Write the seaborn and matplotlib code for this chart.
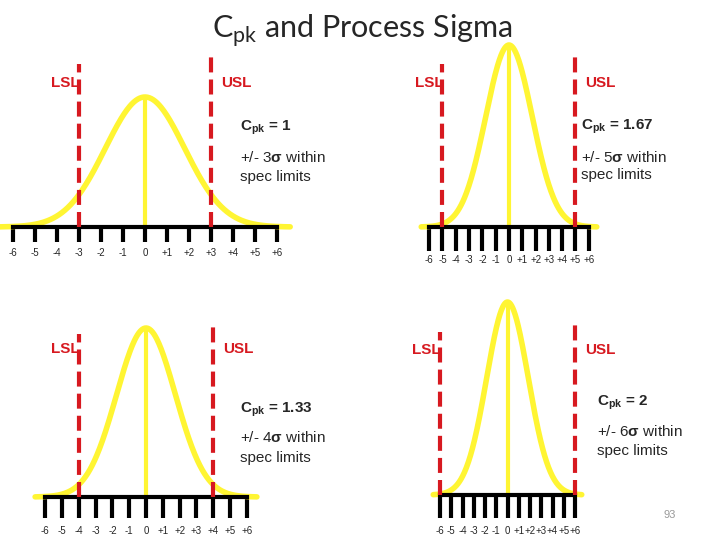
import numpy as np
import pandas as pd
import seaborn as sns
import matplotlib.pyplot as plt

# Dados de cada painel
cpk_labels = ["1", "1.67", "1.33", "2"]
spec_sigma = [3, 5, 4, 6]             # LSL/USL em +/- k sigma
curve_width = [1.8, 1.75, 1.75, 1.85]  # largura do sino em unidades da régua
tick_values = list(range(-6, 7))
tick_labels = ["-6", "-5", "-4", "-3", "-2", "-1", "0", "+1", "+2", "+3", "+4", "+5", "+6"]

sns.set_style("white")
plt.rcParams["font.family"] = ["Liberation Sans", "DejaVu Sans"]
plt.rcParams["mathtext.fontset"] = "custom"
plt.rcParams["mathtext.rm"] = "Lato"
plt.rcParams["mathtext.bf"] = "Liberation Sans:bold"

W, H = 720, 540
YELLOW = "#FFF533"
RED = "#D71920"

# layout em pixels: centro x, px por unidade, linha base, altura do pico,
# comprimento do tick, pad do rótulo, posição dos textos
layout = [
    dict(cx=145, u=22.0, base=227, peak=130, tick=15, pad=4,
         lsl_y=83, usl_x=221, txt_x=240, txt_y=(128, 157, 177)),
    dict(cx=509, u=13.3, base=227, peak=182, tick=24, pad=3,
         lsl_y=83, usl_x=585, txt_x=581, txt_y=(127, 157, 175)),
    dict(cx=146, u=16.8, base=497, peak=169, tick=21, pad=6,
         lsl_y=349, usl_x=223, txt_x=240, txt_y=(410, 438, 458)),
    dict(cx=507.5, u=11.25, base=495, peak=193, tick=23, pad=6,
         lsl_y=350, usl_x=585, txt_x=597, txt_y=(403, 432, 451)),
]

fig = plt.figure(figsize=(7.2, 5.4), dpi=100)

for i, L in enumerate(layout):
    above, below = 200, 45
    left = L["cx"] - 7 * L["u"]
    ax = fig.add_axes([left / W, (H - L["base"] - below) / H,
                       14 * L["u"] / W, (above + below) / H])
    ax.set_xlim(-7, 7)
    ax.set_ylim(-below / L["peak"], above / L["peak"])

    # curva normal
    x = np.linspace(-6.6, 6.6, 300)
    df = pd.DataFrame({"x": x, "y": np.exp(-x ** 2 / (2 * curve_width[i] ** 2))})
    sns.lineplot(data=df, x="x", y="y", ax=ax, color=YELLOW, lw=4, zorder=2)
    ax.plot([0, 0], [0, 1], color=YELLOW, lw=3, zorder=2)

    # limites de especificação
    k = spec_sigma[i]
    ax.plot([-k, -k], [0, 163 / L["peak"]], color=RED, lw=3,
            linestyle=(0, (3.6, 1.7)), zorder=3)
    ax.plot([k, k], [0, 170 / L["peak"]], color=RED, lw=3,
            linestyle=(0, (3.6, 1.7)), zorder=3)

    # régua
    for s in ["left", "top", "right"]:
        ax.spines[s].set_visible(False)
    ax.spines["bottom"].set_position(("data", 0))
    ax.spines["bottom"].set_bounds(-6, 6)
    ax.spines["bottom"].set_linewidth(3)
    ax.spines["bottom"].set_color("black")
    ax.spines["bottom"].set_zorder(2.5)
    ax.set_xticks(tick_values)
    ax.set_xticklabels(tick_labels)
    ax.set_yticks([])
    ax.tick_params(axis="x", direction="out", length=L["tick"] / 1.389, width=3,
                   pad=L["pad"], labelsize=7, color="black", bottom=True)
    ax.set_xlabel("")
    ax.set_ylabel("")
    ax.patch.set_alpha(0)

    # textos
    lsl_x = L["cx"] - k * L["u"] + 1
    fig.text(lsl_x / W, 1 - L["lsl_y"] / H, "LSL", color=RED, fontsize=11,
             fontweight="bold", ha="right", va="center")
    fig.text(L["usl_x"] / W, 1 - L["lsl_y"] / H, "USL", color=RED, fontsize=11,
             fontweight="bold", ha="left", va="center")
    ty = L["txt_y"]
    fig.text(L["txt_x"] / W, 1 - ty[0] / H, r"C$_{\mathbf{pk}}$ = " + cpk_labels[i],
             fontsize=11, fontweight="bold", ha="left", va="center")
    fig.text(L["txt_x"] / W, 1 - ty[1] / H, "+/- %d$\\mathbf{σ}$ within" % k,
             fontsize=11, ha="left", va="center")
    fig.text(L["txt_x"] / W, 1 - ty[2] / H, "spec limits",
             fontsize=11, ha="left", va="center")

fig.text(362 / W, 1 - 31 / H, r"C$_{\mathrm{pk}}$ and Process Sigma",
         family=["Lato", "DejaVu Sans"], fontsize=22, ha="center", va="center")
fig.text(670 / W, 1 - 515 / H, "93", color="#999999", fontsize=8,
         ha="center", va="center")

fig.savefig("out.png", dpi=100)
